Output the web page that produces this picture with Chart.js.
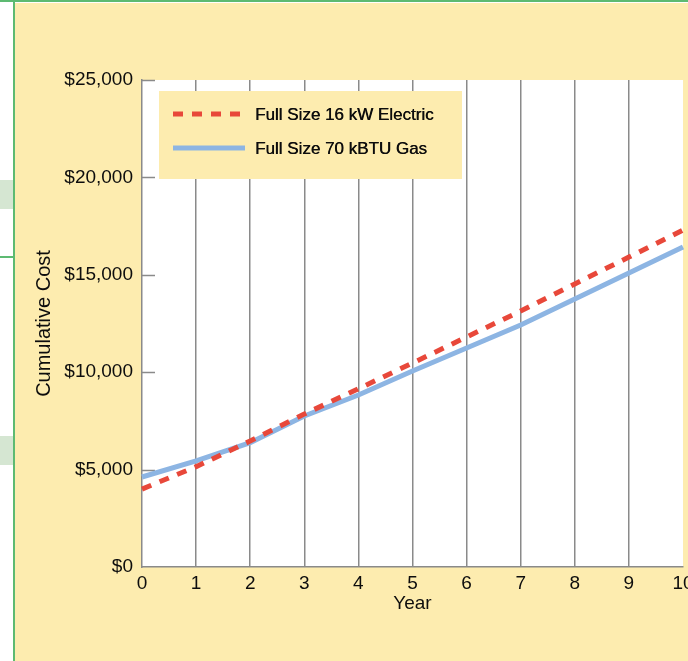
<!DOCTYPE html>
<html>
<head>
<meta charset="utf-8">
<script src="https://cdn.jsdelivr.net/npm/chart.js@4"></script>
<style>
  html, body { margin: 0; padding: 0; background: #fff; width: 688px; height: 661px; overflow: hidden; }
  .topline { position: absolute; left: 0; top: 0; width: 688px; height: 2px; background: #5dba72; }
  .sideline { position: absolute; left: 13px; top: 0; width: 2px; height: 661px; background: #5dba72; }
  .midline { position: absolute; left: 0; top: 256px; width: 13px; height: 2px; background: #5dba72; }
  .shade { position: absolute; left: 0; width: 13px; height: 29px; background: #d5e6d2; }
  #wrap { position: absolute; left: 15px; top: 3px; width: 673px; height: 658px; background: #fdecaf; }
</style>
</head>
<body>
<div class="topline"></div>
<div class="sideline"></div>
<div class="midline"></div>
<div class="shade" style="top:180px"></div>
<div class="shade" style="top:436px"></div>
<div id="wrap"><canvas id="chart" width="673" height="658"></canvas></div>
<script>
// Data
const years = ['0', '1', '2', '3', '4', '5', '6', '7', '8', '9', '10'];
const electricCost = [4000, 5150, 6470, 7850, 9150, 10470, 11810, 13140, 14530, 15910, 17300];
const gasCost = [4620, 5450, 6380, 7750, 8830, 10060, 11240, 12420, 13760, 15090, 16430];
const seriesNames = ['Full Size 16 kW Electric', 'Full Size 70 kBTU Gas'];

const FONT = '"Liberation Sans", Arial, Helvetica, sans-serif';
const GRID = '#8a8a8a';
const RED = '#e8483a';
const BLUE = '#8db5e3';
const INK = '#0d0d0d';

// White plot area
const plotBackground = {
  id: 'plotBackground',
  beforeDraw(chart) {
    const { ctx, chartArea: a } = chart;
    ctx.save();
    ctx.fillStyle = '#ffffff';
    ctx.fillRect(a.left, a.top, a.right - a.left, a.bottom - a.top);
    ctx.restore();
  },
};

// Short inward tick marks on the y axis
const innerTicks = {
  id: 'innerTicks',
  beforeDatasetsDraw(chart) {
    const { ctx, chartArea: a, scales } = chart;
    const y = scales.y;
    ctx.save();
    ctx.strokeStyle = GRID;
    ctx.lineWidth = 1.5;
    y.ticks.forEach((t) => {
      if (t.value === 0) return;
      const py = Math.round(y.getPixelForValue(t.value)) + 0.5;
      ctx.beginPath();
      ctx.moveTo(a.left, py);
      ctx.lineTo(a.left + 13, py);
      ctx.stroke();
    });
    ctx.restore();
  },
};

// Legend box drawn inside the plot area
const boxLegend = {
  id: 'boxLegend',
  afterDatasetsDraw(chart) {
    const { ctx, chartArea: a } = chart;
    const x0 = a.left + 17;
    const y0 = a.top + 11;
    ctx.save();
    ctx.fillStyle = '#fdecaf';
    ctx.fillRect(x0, y0, 303, 88);
    ctx.font = '17px ' + FONT;
    ctx.textBaseline = 'middle';
    chart.data.datasets.forEach((ds, i) => {
      const ly = y0 + 23 + i * 34;
      ctx.strokeStyle = ds.borderColor;
      ctx.lineWidth = 5;
      ctx.setLineDash(ds.borderDash || []);
      ctx.beginPath();
      ctx.moveTo(x0 + 14, ly);
      ctx.lineTo(x0 + 86, ly);
      ctx.stroke();
      ctx.setLineDash([]);
      ctx.fillStyle = INK;
      ctx.fillText(ds.label, x0 + 96, ly + 1);
      // a touch of extra weight, the original face is heavier
      ctx.fillText(ds.label, x0 + 96.4, ly + 1);
    });
    ctx.restore();
  },
};

const ctx = document.getElementById('chart').getContext('2d');
const chart = new Chart(ctx, {
  type: 'line',
  data: {
    labels: years,
    datasets: [
      {
        label: seriesNames[0],
        data: electricCost,
        borderColor: RED,
        borderWidth: 5,
        borderDash: [10, 9],
        pointRadius: 0,
        fill: false,
        tension: 0,
      },
      {
        label: seriesNames[1],
        data: gasCost,
        borderColor: BLUE,
        borderWidth: 5,
        pointRadius: 0,
        fill: false,
        tension: 0,
      },
    ],
  },
  options: {
    responsive: false,
    animation: false,
    layout: { padding: { top: 77, right: 5, left: 0, bottom: 0 } },
    plugins: {
      legend: { display: false },
      tooltip: { enabled: false },
    },
    scales: {
      x: {
        offset: false,
        afterFit(scale) {
          scale.height = 94;
          scale.paddingLeft = 0;
          scale.paddingRight = 0;
        },
        grid: {
          drawTicks: false,
          lineWidth: 1.5,
          color: (c) => (c.index === 0 || c.index === years.length - 1 ? 'rgba(0,0,0,0)' : GRID),
        },
        border: { display: true, color: GRID, width: 1.5 },
        ticks: {
          color: INK,
          font: { family: FONT, size: 19 },
          padding: 5,
          maxRotation: 0,
        },
        title: {
          display: true,
          text: 'Year',
          color: INK,
          font: { family: FONT, size: 19 },
          padding: { top: 0, bottom: 46 },
        },
      },
      y: {
        min: 0,
        max: 25000,
        afterFit(scale) {
          scale.width = 127;
          scale.paddingTop = 0;
          scale.paddingBottom = 0;
        },
        grid: { drawOnChartArea: false, drawTicks: false },
        border: { display: true, color: GRID, width: 1.5 },
        ticks: {
          stepSize: 5000,
          color: INK,
          font: { family: FONT, size: 19 },
          padding: 9,
          callback: (v) => '$' + v.toLocaleString('en-US'),
        },
        title: {
          display: true,
          text: 'Cumulative Cost',
          color: INK,
          font: { family: FONT, size: 20 },
          padding: { top: 17, bottom: 0 },
        },
      },
    },
  },
  plugins: [plotBackground, innerTicks, boxLegend],
});
</script>
</body>
</html>
